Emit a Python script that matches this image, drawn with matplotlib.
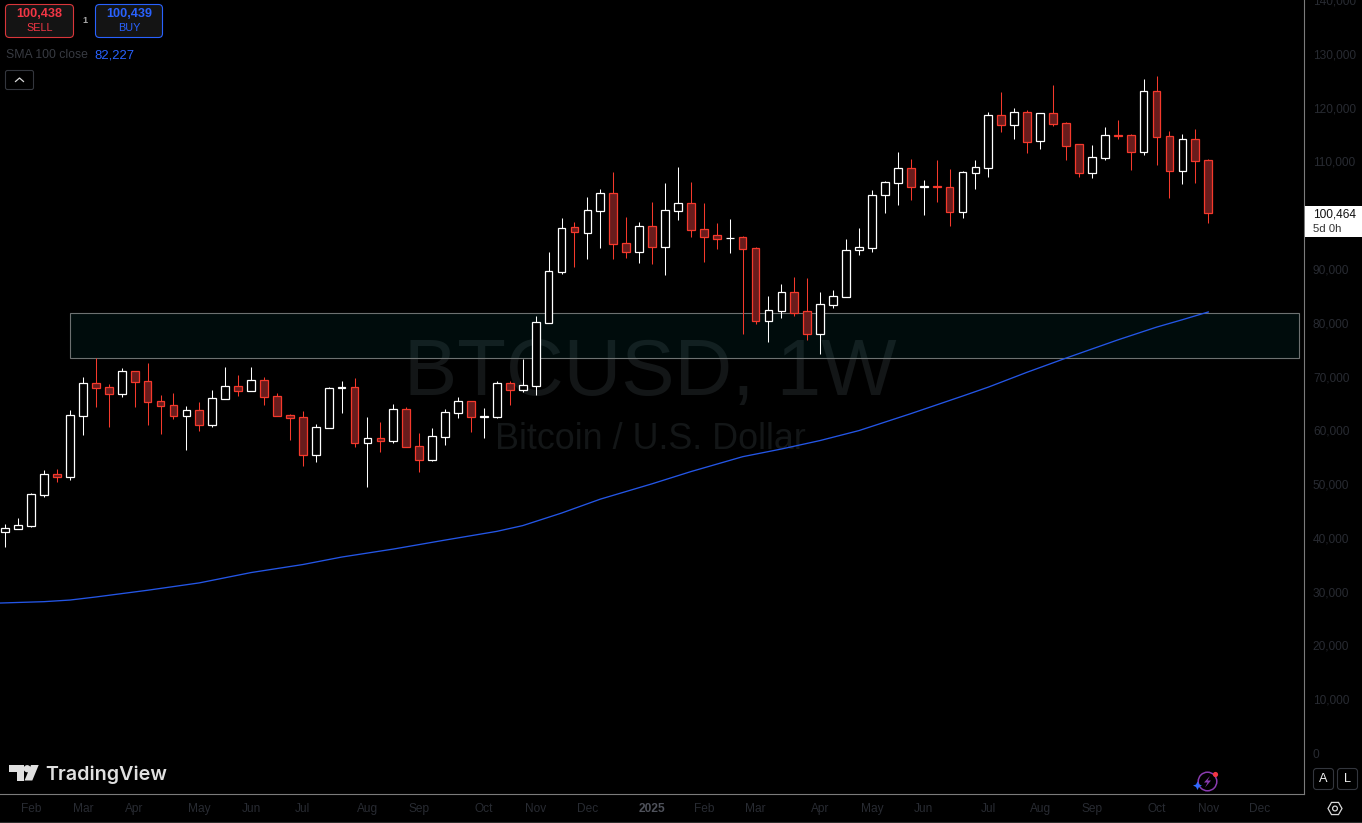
# BTCUSD weekly candles, TradingView dark layout
import matplotlib
matplotlib.use("Agg")
import matplotlib.pyplot as plt
import numpy as np
from matplotlib.patches import Rectangle, FancyBboxPatch, Polygon, Circle, RegularPolygon

# prices in thousands of USD, one entry per weekly candle
opens = [41.13, 41.69, 42.25, 48.01, 51.80, 51.36, 62.69, 68.72, 67.97, 66.78,
         70.95, 69.09, 65.37, 64.63, 62.69, 63.70, 61.02, 65.85, 68.16, 67.34,
         69.27, 66.30, 62.77, 62.40, 55.45, 60.46, 67.95, 67.97, 57.68, 58.49,
         58.05, 63.88, 57.01, 54.52, 58.79, 63.25, 65.37, 62.55, 62.51, 68.72,
         67.53, 68.27, 79.98, 89.46, 97.71, 96.71, 100.80, 104.03, 94.74, 93.18,
         97.90, 94.11, 100.80, 102.17, 97.34, 96.22, 95.70, 95.85, 93.81, 80.35,
         82.21, 85.63, 82.10, 77.93, 83.32, 84.81, 93.44, 93.92, 103.66, 106.00,
         108.68, 105.25, 105.33, 105.15, 100.50, 107.90, 108.79, 118.71, 116.78, 119.09,
         113.81, 118.90, 117.04, 113.14, 107.86, 110.65, 114.81, 114.81, 111.76, 122.99,
         114.63, 108.23, 114.07, 110.16]
closes = [41.77, 42.32, 48.08, 51.80, 51.36, 62.77, 68.72, 67.90, 66.78, 70.95,
          69.01, 65.30, 64.55, 62.69, 63.70, 61.02, 65.93, 68.16, 67.34, 69.27,
          66.23, 62.69, 62.32, 55.45, 60.54, 67.79, 68.00, 57.68, 58.49, 58.05,
          63.88, 56.93, 54.52, 58.87, 63.33, 65.37, 62.51, 62.58, 68.72, 67.53,
          68.34, 80.05, 89.53, 97.52, 96.89, 100.87, 104.03, 94.66, 93.18, 97.90,
          94.11, 100.87, 102.17, 97.27, 95.96, 95.59, 95.78, 93.73, 80.35, 82.28,
          85.63, 81.84, 77.93, 83.40, 84.89, 93.44, 93.99, 103.66, 106.07, 108.68,
          105.26, 105.33, 105.25, 100.61, 107.93, 108.86, 118.71, 116.78, 119.09, 113.62,
          118.90, 116.97, 112.88, 107.86, 110.72, 114.81, 114.75, 111.76, 122.99, 114.55,
          108.23, 114.07, 110.09, 100.46]
highs = [42.56, 43.68, 48.27, 52.60, 52.73, 63.75, 69.89, 73.36, 68.59, 71.56,
         70.95, 72.49, 66.54, 66.91, 64.50, 65.24, 67.47, 71.75, 70.26, 71.75,
         69.89, 66.91, 63.01, 63.57, 61.15, 68.03, 69.14, 69.70, 62.45, 61.52,
         64.87, 64.31, 59.48, 60.41, 63.94, 66.17, 65.37, 64.13, 69.14, 69.14,
         73.23, 81.23, 93.12, 99.44, 98.70, 103.34, 104.83, 107.99, 99.63, 98.70,
         102.41, 105.95, 108.92, 106.13, 102.23, 98.51, 99.25, 96.09, 94.05, 84.94,
         87.17, 88.47, 88.29, 85.69, 86.06, 95.54, 97.58, 104.64, 106.32, 111.71,
         110.41, 106.50, 110.22, 108.55, 108.18, 110.22, 119.14, 122.86, 119.89, 119.51,
         118.90, 124.16, 117.28, 113.14, 113.01, 116.35, 117.66, 115.05, 125.28, 125.83,
         115.61, 115.05, 115.98, 110.41]
lows = [38.34, 41.69, 42.06, 47.64, 50.37, 50.80, 59.11, 64.31, 60.59, 66.23,
        64.31, 60.97, 59.29, 62.14, 56.37, 59.85, 60.65, 65.85, 66.41, 67.34,
        64.74, 62.69, 58.18, 53.34, 54.14, 60.46, 63.20, 56.88, 49.44, 55.95,
        57.68, 56.93, 52.23, 54.27, 57.25, 62.27, 59.66, 58.55, 62.27, 64.68,
        67.10, 66.54, 79.98, 89.03, 90.33, 91.82, 93.86, 91.82, 92.01, 91.08,
        90.89, 88.85, 99.07, 95.91, 91.26, 93.68, 92.94, 77.88, 79.74, 76.39,
        80.85, 81.23, 76.76, 74.16, 82.71, 84.81, 92.56, 93.12, 100.37, 101.86,
        102.79, 100.00, 102.41, 97.95, 99.44, 104.83, 107.06, 115.42, 114.12, 111.52,
        112.27, 116.54, 110.22, 107.06, 106.88, 110.22, 114.12, 108.36, 111.15, 109.29,
        103.16, 105.76, 105.95, 98.51]

# SMA 100 read at a subset of the weeks
sma_weeks = [-1, 3, 5, 7, 11, 15, 19, 23, 26, 30, 34, 38, 40, 43, 46, 50, 53, 57, 60,
             63, 66, 70, 74, 76, 79, 82, 86, 89, 91, 93]
sma_values = [27.84, 28.14, 28.44, 29.01, 30.26, 31.63, 33.55, 35.04, 36.43, 37.92,
              39.59, 41.21, 42.28, 44.61, 47.20, 50.05, 52.32, 55.09, 56.52, 58.10,
              59.95, 63.09, 66.36, 68.03, 70.80, 73.42, 76.80, 79.18, 80.56, 82.00]

# highlighted zone
zone_low, zone_high = 73.42, 81.78
zone_start_week, zone_end_week = 5, 100

price_ticks = list(range(0, 150, 10))
month_weeks = [2, 6, 10, 15, 19, 23, 28, 32, 37, 41, 45, 50, 54, 58, 63, 67, 71, 76, 80, 84, 89, 93, 97]
month_labels = ["Feb", "Mar", "Apr", "May", "Jun", "Jul", "Aug", "Sep", "Oct", "Nov", "Dec", "2025",
                "Feb", "Mar", "Apr", "May", "Jun", "Jul", "Aug", "Sep", "Oct", "Nov", "Dec"]

W, H = 1362, 823
BG = "#000000"
UP_EDGE = "#ffffff"
DOWN_EDGE = "#f5392c"
DOWN_FILL = "#691c1c"
DIM = "#282b32"
BLUE = "#2962ff"
FONT = "Liberation Sans"

plt.rcParams["font.family"] = [FONT, "DejaVu Sans"]

fig = plt.figure(figsize=(W / 100, H / 100), dpi=100, facecolor=BG)
ax = fig.add_axes([0, (H - 794) / H, 1304 / W, 794 / H], facecolor=BG)

ax.set_xlim(-0.41, 100.4)
ax.set_ylim(-7620, 139960)

weeks = np.arange(len(opens))
o = np.array(opens) * 1000
c = np.array(closes) * 1000
h = np.array(highs) * 1000
l = np.array(lows) * 1000
down = c < o

# watermark sits under everything else
ax.text(0.4985, 0.5285, "BTCUSD, 1W", transform=ax.transAxes, ha="center", va="center",
        fontsize=57.5, color="#131617", zorder=0)
ax.text(0.4985, 0.447, "Bitcoin / U.S. Dollar", transform=ax.transAxes, ha="center", va="center",
        fontsize=25.8, color="#131617", zorder=0)

ax.add_patch(Rectangle((zone_start_week, zone_low * 1000), zone_end_week - zone_start_week,
                       (zone_high - zone_low) * 1000, facecolor="#0b8a8a", alpha=0.09,
                       edgecolor="none", zorder=1))
ax.add_patch(Rectangle((zone_start_week, zone_low * 1000), zone_end_week - zone_start_week,
                       (zone_high - zone_low) * 1000, facecolor="none",
                       edgecolor="#6d7171", linewidth=0.8, zorder=1.1))

ax.plot(np.array(sma_weeks), np.array(sma_values) * 1000, color="#2456e6", linewidth=0.95, zorder=2)

# wicks first, bodies on top
wicks = ax.vlines(weeks, l, h, colors=[DOWN_EDGE if d else UP_EDGE for d in down], linewidth=0.75, zorder=3)
wicks.set_snap(True)
body_bottom = np.minimum(o, c)
body_height = np.abs(c - o)
ax.bar(weeks[~down], body_height[~down], bottom=body_bottom[~down], width=0.6,
       facecolor=BG, edgecolor=UP_EDGE, linewidth=0.9, zorder=4)
ax.bar(weeks[down], body_height[down], bottom=body_bottom[down], width=0.6,
       facecolor=DOWN_FILL, edgecolor=DOWN_EDGE, linewidth=0.9, zorder=4)

for s in ["top", "left"]:
    ax.spines[s].set_visible(False)
for s in ["right", "bottom"]:
    ax.spines[s].set_color("#7b7b7b")
    ax.spines[s].set_linewidth(0.8)

ax.yaxis.tick_right()
ax.set_yticks([p * 1000 for p in price_ticks])
ax.set_yticklabels([f"{p * 1000:,}" for p in price_ticks])
ax.tick_params(axis="y", length=0, pad=6.4, labelsize=8.6, labelcolor=DIM)
ax.set_xticks(month_weeks)
ax.set_xticklabels(month_labels)
ax.tick_params(axis="x", length=0, pad=6.5, labelsize=8.6, labelcolor=DIM)
for lab in ax.get_xticklabels():
    if lab.get_text() == "2025":
        lab.set_fontweight("bold")
        lab.set_color("#4f525b")

# interface chrome, in pixel coordinates of the screenshot
ui = fig.add_axes([0, 0, 1, 1], facecolor="none")
ui.set_xlim(0, W)
ui.set_ylim(H, 0)
ui.axis("off")


def box(x0, y0, x1, y1, edge, face="none", r=4, lw=0.8):
    ui.add_patch(FancyBboxPatch((x0 + r, y0 + r), x1 - x0 - 2 * r, y1 - y0 - 2 * r,
                                boxstyle=f"round,pad={r},rounding_size={r}",
                                edgecolor=edge, facecolor=face, linewidth=lw, mutation_aspect=1))


ui.plot([0, W], [822, 822], color="#2c2c2c", linewidth=0.8)

# sell / buy buttons
box(5.5, 4.5, 73.5, 37.5, "#d9363a", "#141414")
box(95.5, 4.5, 162.5, 37.5, "#2962ff", "#141414")
ui.text(39.5, 14, "100,438", color="#f23645", fontsize=9.1, fontweight="bold", ha="center", va="center")
ui.text(39.5, 28, "SELL", color="#f23645", fontsize=7.8, ha="center", va="center")
ui.text(129, 14, "100,439", color=BLUE, fontsize=9.1, fontweight="bold", ha="center", va="center")
ui.text(129, 28, "BUY", color=BLUE, fontsize=7.8, ha="center", va="center")
ui.text(84.5, 20.5, "1", color="#a8a8a8", fontsize=6.5, fontweight="bold", ha="center", va="center")

# indicator legend
ui.text(6, 55, "SMA 100 close", color="#383b42", fontsize=8.8, va="center")
ui.text(94, 55, "82,227", color=BLUE, fontsize=9.4, va="center")
box(5.5, 70.5, 33.5, 89.5, "#33363d", "#000000", r=2)
ui.plot([15.5, 19.5, 23.5], [81.5, 78, 81.5], color="#d8d8d8", linewidth=0.9)

# last price tag
ui.add_patch(Rectangle((1305, 206), 56.5, 31, facecolor="#ffffff", edgecolor="none"))
ui.text(1313, 214, "100,464", color="#111111", fontsize=8.6, va="center")
ui.text(1313, 228.5, "5d 0h", color="#333333", fontsize=8.2, va="center")

# logo
logo = "#e0e0e0"
ui.add_patch(Polygon([(9, 765), (24, 765), (24, 780.5), (16.7, 780.5), (16.7, 772.3), (9, 772.3)],
                     facecolor=logo, edgecolor="none"))
ui.add_patch(Circle((27.2, 768.7), 3.6, facecolor=logo, edgecolor="none"))
ui.add_patch(Polygon([(38.7, 765), (32.3, 780.5), (24.5, 780.5), (31, 765)], facecolor=logo, edgecolor="none"))
ui.text(45.5, 774.5, "TradingView", color=logo, fontsize=14.2, fontweight="semibold", family="Inter",
        va="center")

# assistant icon
ui.add_patch(Circle((1207.5, 781.5), 9.3, facecolor="none", edgecolor="#8a3bb0", linewidth=1.1))
ui.add_patch(Polygon([(1210, 776), (1204, 782.5), (1207.5, 782.5), (1205, 787.5), (1211, 780.5), (1207.5, 780.5)],
                     facecolor="#8a3bb0", edgecolor="none"))
ui.add_patch(Circle((1215.5, 774.5), 2.6, facecolor="#f23645", edgecolor="none"))
ui.add_patch(Polygon([(1197.5, 781.5), (1199, 784.5), (1202, 785.5), (1199, 787), (1197.5, 790),
                      (1196, 787), (1193, 785.5), (1196, 784.5)], facecolor="#2f6bff", edgecolor="none"))

# auto / log buttons
box(1313.5, 768.5, 1333.5, 789.5, "#33363d", r=3)
box(1337.5, 768.5, 1357.5, 789.5, "#33363d", r=3)
ui.text(1323.5, 779.5, "A", color="#f0f0f0", fontsize=9.2, ha="center", va="center")
ui.text(1347.5, 779.5, "L", color="#f0f0f0", fontsize=9.2, ha="center", va="center")

# settings hexagon
ui.add_patch(RegularPolygon((1335, 808.5), 6, radius=7, orientation=np.pi / 6, facecolor="none",
                            edgecolor="#d8d8d8", linewidth=0.9))
ui.add_patch(Circle((1335, 808.5), 2.4, facecolor="none", edgecolor="#d8d8d8", linewidth=0.9))

fig.savefig("out.png", dpi=100, facecolor=BG)
